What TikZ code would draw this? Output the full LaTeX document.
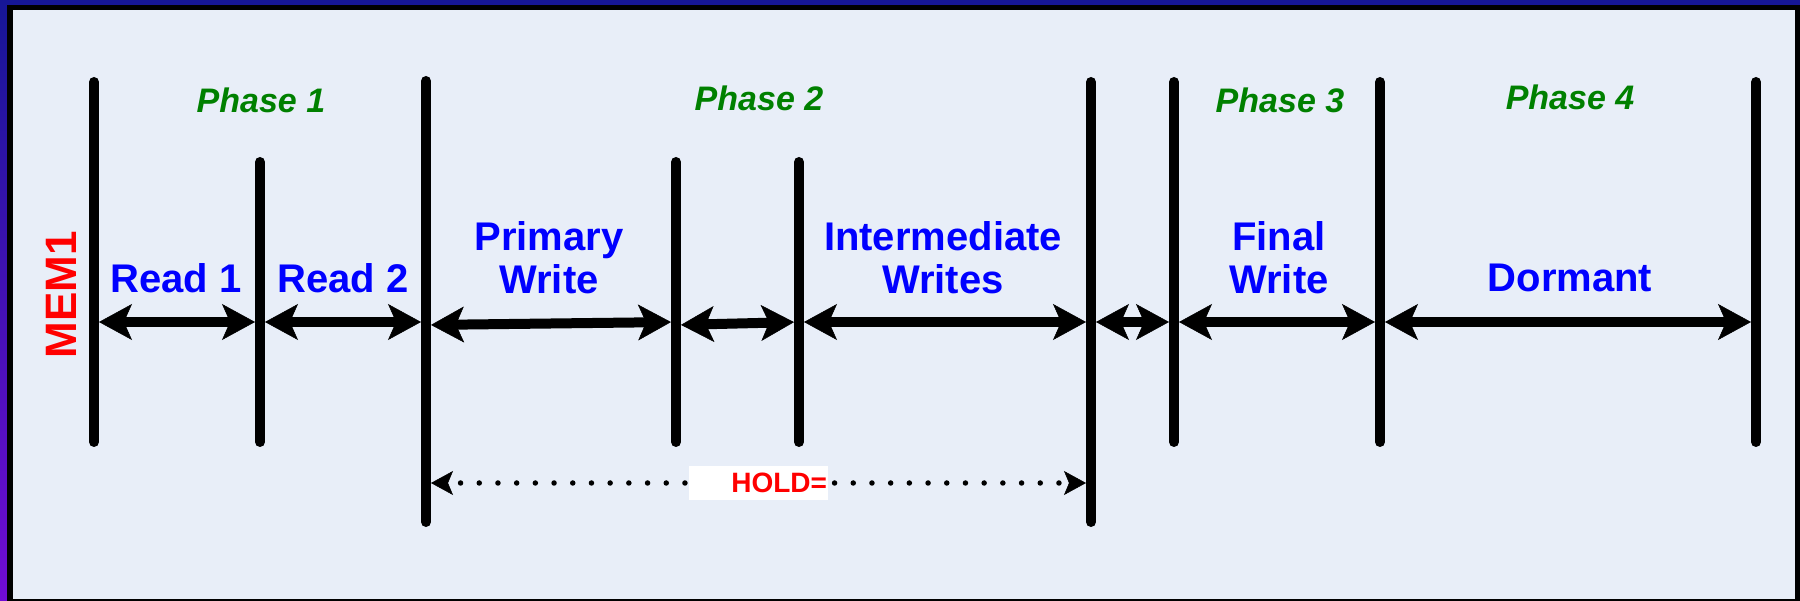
\documentclass[tikz,border=0pt]{standalone}
\usepackage{fontspec}
\setmainfont{Liberation Sans}
\usetikzlibrary{arrows.meta}
\definecolor{bgfill}{RGB}{232,238,248}
\definecolor{frametop}{RGB}{22,22,150}
\definecolor{framebot}{RGB}{112,12,212}
\definecolor{phasegreen}{RGB}{0,128,0}
\definecolor{labelblue}{RGB}{0,0,255}
\definecolor{holdred}{RGB}{255,0,0}
\begin{document}
\begin{tikzpicture}[x=1pt,y=-1pt,
  bar/.style={line width=10pt,line cap=round},
  span/.style={line width=10pt,{Stealth[length=33pt,width=36pt,inset=8pt,line width=0.5pt]}-{Stealth[length=33pt,width=36pt,inset=8pt,line width=0.5pt]},shorten <=5pt,shorten >=5pt},
  holdline/.style={line width=5.5pt,line cap=round,dash pattern=on 0pt off 18.7pt,dash phase=6pt,
    {Stealth[length=22pt,width=24pt,inset=5pt,line width=0.5pt]}-{Stealth[length=22pt,width=24pt,inset=5pt,line width=0.5pt]},shorten <=5pt,shorten >=5pt},
  phase/.style={text=phasegreen,font=\fontsize{34}{40}\selectfont\bfseries\itshape,anchor=base,inner sep=0pt},
  lbl/.style={text=labelblue,font=\fontsize{40}{43.5}\selectfont\bfseries,anchor=base,inner sep=0pt,align=center},
]
\useasboundingbox (0,0) rectangle (1800,601);
% frame
\shade[top color=frametop,bottom color=framebot] (0,0) rectangle (1800,601);
\fill[black] (7,5) rectangle (1800,601);
\fill[bgfill] (13,10) rectangle (1795,599);

% bar ends
\coordinate (t1) at (94,82);   \coordinate (u1) at (94,442);
\coordinate (t2) at (260,162); \coordinate (u2) at (260,442);
\coordinate (t3) at (426,81);  \coordinate (u3) at (426,522);
\coordinate (t4) at (676,162); \coordinate (u4) at (676,442);
\coordinate (t5) at (799,162); \coordinate (u5) at (799,442);
\coordinate (t6) at (1091,82); \coordinate (u6) at (1091,522);
\coordinate (t7) at (1174,82); \coordinate (u7) at (1174,442);
\coordinate (t8) at (1380,82); \coordinate (u8) at (1380,442);
\coordinate (t9) at (1756,82); \coordinate (u9) at (1756,442);
\foreach \i in {1,...,9} {\draw[bar] (t\i) -- (u\i);}

% arrow ends on bars
\coordinate (a1) at (94,322);
\coordinate (a2) at (260,322);
\coordinate (a3) at (426,322);
\coordinate (a3w) at (426,325);
\coordinate (a4) at (676,322);
\coordinate (a4w) at (676,325);
\coordinate (a5) at (799,322);
\coordinate (a6) at (1091,322);
\coordinate (a7) at (1174,322);
\coordinate (a8) at (1380,322);
\coordinate (a9) at (1756,322);
\draw[span] (a1) -- (a2);
\draw[span] (a2) -- (a3);
\draw[span] (a3w) -- (a4);
\draw[span] (a4w) -- (a5);
\draw[span] (a5) -- (a6);
\draw[span] (a6) -- (a7);
\draw[span] (a7) -- (a8);
\draw[span] (a8) -- (a9);

% hold
\coordinate (h3) at (426,483);
\coordinate (h6) at (1091,483);
\draw[holdline] (h3) -- (h6);
\node[fill=white,text=holdred,font=\fontsize{28}{30}\selectfont\bfseries,inner xsep=1pt,inner ysep=0pt,
  minimum height=34pt,text width=137pt,align=right] (hold) at (758.5,483) {HOLD=};

% phases
\node[phase] (p1) at (261,113) {Phase 1};
\node[phase] (p2) at (759,111) {Phase 2};
\node[phase] (p3) at (1280,113) {Phase 3};
\node[phase] (p4) at (1570,110) {Phase 4};

% labels
\node[lbl] (r1) at (176,293) {Read 1};
\node[lbl] (r2) at (343,293) {Read 2};
\node[lbl] (pw) at (549,294) {Primary\\Write};
\node[lbl] (iw) at (943,294) {Intermediate\\Writes};
\node[lbl] (fw) at (1279,294) {Final\\Write};
\node[lbl] (dm) at (1570,292) {Dormant};

\node[rotate=90,text=holdred,font=\fontsize{44}{50}\selectfont\bfseries,inner sep=0pt] (mem) at (61,295) {MEM1};
\end{tikzpicture}
\end{document}
